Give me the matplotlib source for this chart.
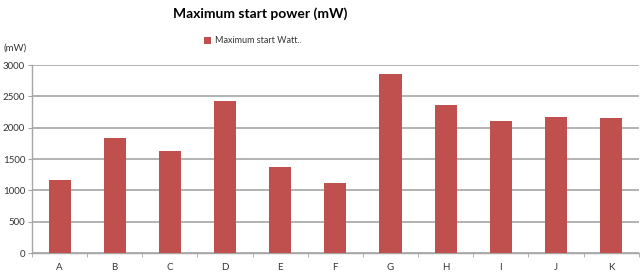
import matplotlib.pyplot as plt
import numpy as np

# categories and values
categories = ["A", "B", "C", "D", "E", "F", "G", "H", "I", "J", "K"]
start_power = [1160, 1830, 1630, 2430, 1370, 1115, 2865, 2355, 2115, 2170, 2160]
y_ticks = [0, 500, 1000, 1500, 2000, 2500, 3000]

bar_color = "#C0504D"
grid_color = "#A6A6A6"
text_color = "#333333"

plt.rcParams["font.family"] = ["Lato", "DejaVu Sans"]

fig = plt.figure(figsize=(6.4, 2.76), dpi=100)
ax = fig.add_axes([0.05, 0.0833, 0.948, 0.681])

x = np.arange(len(categories))
ax.bar(x, start_power, width=0.4, color=bar_color, zorder=3,
       label="Maximum start Watt..")

ax.set_xlim(-0.5, len(categories) - 0.5)
ax.set_ylim(0, 3000)
ax.set_yticks(y_ticks)
ax.set_yticklabels([str(v) for v in y_ticks], fontsize=7, color=text_color)
ax.set_xticks(x)
ax.set_xticklabels(categories, fontsize=7, color=text_color)
ax.tick_params(axis="x", length=0, pad=7)
ax.tick_params(axis="y", length=3, color=grid_color, pad=2)

# tick marks between categories
ax.set_xticks(np.arange(-0.5, len(categories), 1.0), minor=True)
ax.tick_params(axis="x", which="minor", length=3, color=grid_color)

ax.yaxis.grid(True, color=grid_color, linewidth=1.2, zorder=0)
for side in ["top", "right"]:
    ax.spines[side].set_visible(False)
for side in ["left", "bottom"]:
    ax.spines[side].set_color(grid_color)
    ax.spines[side].set_linewidth(1.0)

fig.text(0.406, 0.95, "Maximum start power (mW)", ha="center", va="center",
         fontsize=10, fontweight="bold", color="#000000")
fig.text(0.005, 0.825, "(mW)", ha="left", va="center", fontsize=7, color=text_color)

ax.legend(loc="center", bbox_to_anchor=(0.395, 0.852), bbox_transform=fig.transFigure,
          frameon=False, fontsize=6.5, handlelength=0.8, handleheight=0.8,
          handletextpad=0.4, labelcolor=text_color)

fig.savefig("out.png", dpi=100)
